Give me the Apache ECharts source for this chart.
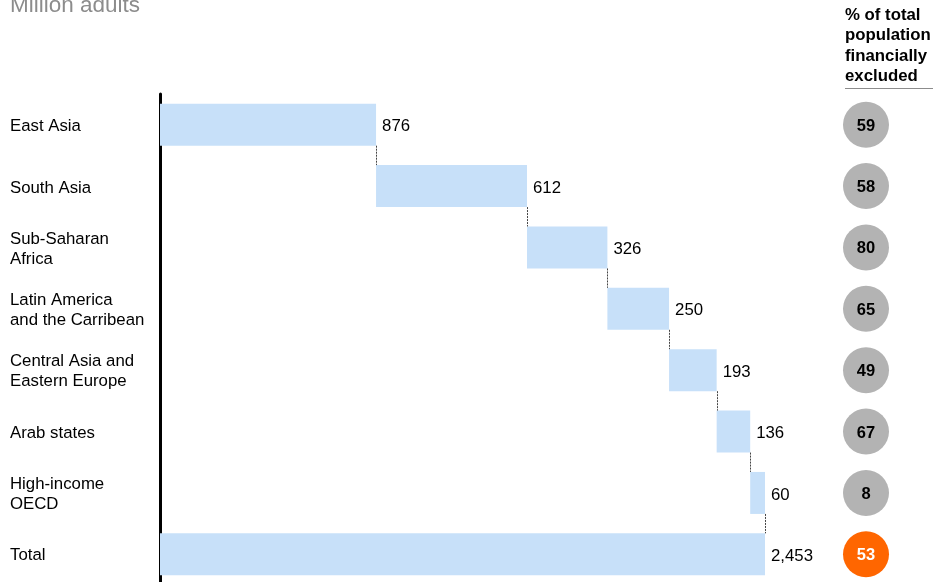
<!DOCTYPE html>
<html>
<head>
<meta charset="utf-8">
<script src="https://cdn.jsdelivr.net/npm/echarts@6/dist/echarts.min.js"></script>
<style>
  html, body { margin: 0; padding: 0; background: #fff; overflow: hidden; }
  #chart { width: 936px; height: 586px; }
</style>
</head>
<body>
<div id="chart"></div>
<script>
const categories = ['East Asia', 'South Asia', 'Sub-Saharan\nAfrica', 'Latin America\nand the Carribean',
  'Central Asia and\nEastern Europe', 'Arab states', 'High-income\nOECD', 'Total'];
const values = [876, 612, 326, 250, 193, 136, 60, 2453];
const pctExcluded = [59, 58, 80, 65, 49, 67, 8, 53];

const barColor = '#c7e0f9';
const font = 'Liberation Sans, Arial, sans-serif';
const fs = 16.8;

// invisible base of each step, total starts at zero
const base = [];
let run = 0;
for (let i = 0; i < values.length; i++) {
  if (i === values.length - 1) {
    base.push(0);
  } else {
    base.push(run);
    run += values[i];
  }
}
// connector positions: end of each step
const connectors = [];
for (let i = 0; i < values.length - 1; i++) {
  connectors.push([base[i] + values[i], i]);
}

const chart = echarts.init(document.getElementById('chart'));
const option = {
  animation: false,
  title: {
    text: 'Million adults',
    left: 5,
    top: -11,
    textStyle: { color: '#8c8c8c', fontSize: 22.5, fontWeight: 'normal', fontFamily: font }
  },
  graphic: [
    {
      type: 'text',
      left: 845,
      top: 5,
      style: {
        text: '% of total\npopulation\nfinancially\nexcluded',
        font: 'bold ' + fs + 'px ' + font,
        lineHeight: 20.5,
        fill: '#000'
      }
    },
    {
      type: 'line',
      shape: { x1: 845, y1: 88.5, x2: 933, y2: 88.5 },
      style: { stroke: '#8c8c8c', lineWidth: 1 }
    }
  ],
  grid: [
    { left: 160, top: 94, width: 605, height: 491 },
    { left: 843, top: 94, width: 46, height: 491 },
    // label-only grid, nudged down to sit the text like the original
    { left: 159, top: 96, width: 1, height: 491 }
  ],
  xAxis: [
    { type: 'value', min: 0, max: 2453, show: false, gridIndex: 0 },
    { type: 'value', min: 0, max: 1, show: false, gridIndex: 1 },
    { type: 'value', min: 0, max: 1, show: false, gridIndex: 2 }
  ],
  yAxis: [
    {
      type: 'category',
      data: categories,
      inverse: true,
      gridIndex: 0,
      offset: 1,
      axisLine: { show: true, lineStyle: { color: '#000', width: 3 } },
      axisTick: { show: false },
      splitLine: { show: false },
      axisLabel: { show: false }
    },
    {
      type: 'category',
      data: categories,
      inverse: true,
      gridIndex: 1,
      show: false
    },
    {
      type: 'category',
      data: categories,
      inverse: true,
      gridIndex: 2,
      axisLine: { show: false },
      axisTick: { show: false },
      splitLine: { show: false },
      axisLabel: {
        align: 'left',
        margin: 149,
        color: '#000',
        fontSize: fs,
        lineHeight: 20,
        fontFamily: font
      }
    }
  ],
  series: [
    {
      name: 'base',
      type: 'bar',
      stack: 'w',
      barWidth: 42,
      itemStyle: { color: 'transparent' },
      data: base,
      silent: true
    },
    {
      name: 'value',
      type: 'bar',
      stack: 'w',
      barWidth: 42,
      itemStyle: { color: barColor },
      label: {
        show: true,
        position: 'right',
        distance: 6,
        offset: [0, 2],
        color: '#000',
        fontSize: fs,
        fontFamily: font,
        formatter: p => p.value.toLocaleString('en-US')
      },
      data: values
    },
    {
      name: 'connector',
      type: 'custom',
      data: connectors,
      z: 3,
      renderItem: function (params, api) {
        const p0 = api.coord([api.value(0), api.value(1)]);
        const p1 = api.coord([api.value(0), api.value(1) + 1]);
        const half = 21;
        return {
          type: 'line',
          shape: { x1: Math.round(p0[0]) + 0.5, y1: p0[1] + half, x2: Math.round(p0[0]) + 0.5, y2: p1[1] - half },
          style: { stroke: '#444', lineWidth: 1, lineDash: [2, 1] }
        };
      }
    },
    {
      name: 'pct',
      type: 'scatter',
      xAxisIndex: 1,
      yAxisIndex: 1,
      symbolSize: 46,
      data: pctExcluded.map((v, i) => ({
        value: [0.5, i],
        pct: v,
        itemStyle: { color: i === pctExcluded.length - 1 ? '#ff6600' : '#b3b3b3', opacity: 1 },
        label: { color: i === pctExcluded.length - 1 ? '#fff' : '#000' }
      })),
      label: {
        show: true,
        position: 'inside',
        offset: [0, 1.5],
        fontSize: 16.5,
        fontWeight: 'bold',
        fontFamily: font,
        formatter: p => String(p.data.pct)
      }
    }
  ]
};
chart.setOption(option);
</script>
</body>
</html>
